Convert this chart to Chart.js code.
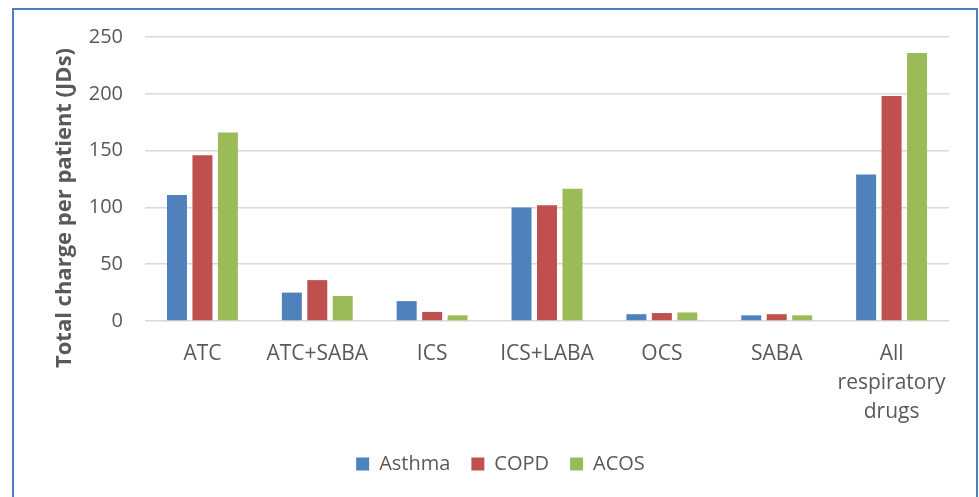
<!DOCTYPE html>
<html>
<head>
<meta charset="utf-8">
<script src="https://cdn.jsdelivr.net/npm/chart.js@4/dist/chart.umd.min.js"></script>
<style>
  html, body { margin: 0; padding: 0; background: #fff; overflow: hidden; }
  #frame {
    position: absolute; left: 12px; top: 8px; width: 962px; height: 600px;
    border: 2px solid #4a7ebf; box-sizing: content-box;
  }
  #wrap { position: absolute; left: 0; top: 0; width: 979px; height: 497px; }
</style>
</head>
<body>
<div id="frame"></div>
<div id="wrap"><canvas id="chargeChart" width="979" height="497"></canvas></div>
<script>
// total charge per patient by drug class

const categories = ['ATC', 'ATC+SABA', 'ICS', 'ICS+LABA', 'OCS', 'SABA', ['All', 'respiratory', 'drugs']];
const asthma = [111, 25, 17.5, 100, 6, 5, 129];
const copd = [146, 36, 8, 102, 7, 6, 198];
const acos = [166, 22, 5, 116.5, 7.5, 5, 236];
const yTitle = 'Total charge per patient (JDs)';

const textColor = '#595959';

// y title drawn by hand so it can sit where the original has it
const yTitlePlugin = {
    id: 'yTitle',
    afterLayout(chart) {
        // legend is centred on the whole frame in the original, nudge it right
        const lg = chart.legend;
        if (lg) { lg.left += 26; lg.right += 26; }
    },
    afterDraw(chart) {
        const ctx = chart.ctx;
        ctx.save();
        ctx.translate(65, 208);
        ctx.rotate(-Math.PI / 2);
        ctx.font = 'bold 22px "Open Sans"';
        ctx.fillStyle = textColor;
        ctx.textAlign = 'center';
        ctx.textBaseline = 'middle';
        ctx.fillText(yTitle, 0, 0);
        ctx.restore();
    }
};

const chartE = document.getElementById('chargeChart');
const chargeChart = new Chart(chartE, {
    type: 'bar',
    data: {
        labels: categories,
        datasets: [
            { label: 'Asthma', data: asthma, backgroundColor: '#4f81bd' },
            { label: 'COPD', data: copd, backgroundColor: '#c0504d' },
            { label: 'ACOS', data: acos, backgroundColor: '#9bbb59' }
        ]
    },
    options: {
        responsive: false,
        animation: false,
        categoryPercentage: 0.665,
        barPercentage: 0.785,
        layout: {
            padding: { left: 0, right: 30, top: 37, bottom: 13 }
        },
        scales: {
            x: {
                grid: { display: false },
                border: { display: false },
                ticks: {
                    color: textColor,
                    font: { family: 'Open Sans', size: 21, lineHeight: 1.38 },
                    padding: 11,
                    maxRotation: 0,
                    autoSkip: false
                },
                afterFit(scale) { scale.height = 112; }
            },
            y: {
                min: 0,
                max: 250,
                grid: { color: '#d9d9d9', lineWidth: 1.5, drawTicks: false },
                border: { display: false },
                ticks: {
                    stepSize: 50,
                    color: textColor,
                    font: { family: 'Open Sans', size: 20 },
                    padding: 22
                },
                afterFit(scale) { scale.width = 145; }
            }
        },
        plugins: {
            legend: {
                display: true,
                position: 'bottom',
                labels: {
                    color: textColor,
                    font: { family: 'Open Sans', size: 20 },
                    boxWidth: 13,
                    boxHeight: 13,
                    padding: 21
                }
            },
            tooltip: { enabled: false }
        }
    },
    plugins: [yTitlePlugin]
});
</script>
</body>
</html>
